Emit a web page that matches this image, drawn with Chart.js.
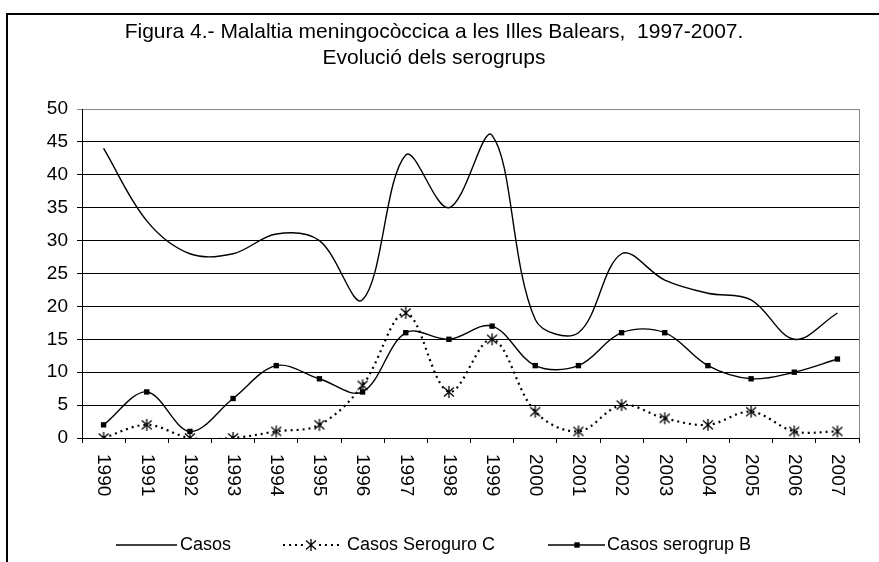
<!DOCTYPE html>
<html>
<head>
<meta charset="utf-8">
<script src="https://cdn.jsdelivr.net/npm/chart.js@4/dist/chart.umd.min.js"></script>
<style>
  html, body { margin: 0; padding: 0; background: #fff; }
  canvas { display: block; }
</style>
</head>
<body>
<canvas id="c" width="879" height="562"></canvas>
<script>
// ---- data ----
const years = ['1990','1991','1992','1993','1994','1995','1996','1997','1998','1999','2000','2001','2002','2003','2004','2005','2006','2007'];
const casos = [44, 33, 28, 28, 31, 30, 21, 43, 35, 46, 18, 16, 28, 24, 22, 21, 15, 19];
const seroC = [0, 2, 0, 0, 1, 2, 8, 19, 7, 15, 4, 1, 5, 3, 2, 4, 1, 1];
const seroB = [2, 7, 1, 6, 11, 9, 7, 16, 15, 17, 11, 11, 16, 16, 11, 9, 10, 12];
const seriesNames = ['Casos', 'Casos Seroguro C', 'Casos serogrup B'];
const titleLines = ['Figura 4.- Malaltia meningocòccica a les Illes Balears,  1997-2007.', 'Evolució dels serogrups'];

const FONT = "'Liberation Sans', Arial, Helvetica, sans-serif";

// asterisk marker (6 arms)
function makeStar() {
  const c = document.createElement('canvas');
  c.width = 14; c.height = 14;
  const g = c.getContext('2d');
  g.strokeStyle = '#000';
  g.lineWidth = 1.3;
  g.beginPath();
  g.moveTo(7, 1); g.lineTo(7, 13);
  g.moveTo(2, 2.5); g.lineTo(12, 11.5);
  g.moveTo(2, 11.5); g.lineTo(12, 2.5);
  g.stroke();
  return c;
}
const star = makeStar();

const decorPlugin = {
  id: 'decor',
  beforeDraw(chart) {
    const ctx = chart.ctx;
    ctx.save();
    ctx.fillStyle = '#fff';
    ctx.fillRect(0, 0, chart.width, chart.height);
    ctx.strokeStyle = '#000';
    ctx.lineWidth = 2;
    ctx.strokeRect(7, 14, 960, 700);
    ctx.restore();
  },
  beforeDatasetsDraw(chart) {
    const ctx = chart.ctx, a = chart.chartArea;
    ctx.save();
    ctx.strokeStyle = '#888';
    ctx.lineWidth = 1;
    ctx.beginPath();
    ctx.moveTo(Math.round(a.right) + 0.5, a.top);
    ctx.lineTo(Math.round(a.right) + 0.5, a.bottom);
    ctx.stroke();
    ctx.restore();
  },
  afterDraw(chart) {
    const ctx = chart.ctx, a = chart.chartArea;
    const xs = chart.scales.x;
    ctx.save();
    ctx.fillStyle = '#000';
    // title
    ctx.font = '21px ' + FONT;
    ctx.textAlign = 'center';
    ctx.textBaseline = 'middle';
    ctx.fillText(titleLines[0], 434, 32);
    ctx.fillText(titleLines[1], 434, 58);
    // x labels rotated clockwise
    ctx.font = '19px ' + FONT;
    years.forEach((y, i) => {
      const x = xs.getPixelForValue(i);
      ctx.save();
      ctx.translate(x, a.bottom + 16);
      ctx.rotate(Math.PI / 2);
      ctx.textAlign = 'left';
      ctx.textBaseline = 'middle';
      ctx.fillText(y, 0, 0);
      ctx.restore();
    });
    // legend
    const ly = 545;
    ctx.font = '18px ' + FONT;
    ctx.textAlign = 'left';
    ctx.textBaseline = 'middle';
    ctx.strokeStyle = '#000';
    // Casos
    ctx.lineWidth = 1.4;
    ctx.beginPath(); ctx.moveTo(116, ly); ctx.lineTo(177, ly); ctx.stroke();
    ctx.fillText(seriesNames[0], 180, ly);
    // C
    ctx.lineWidth = 2.2;
    ctx.setLineDash([2, 4]);
    ctx.beginPath(); ctx.moveTo(283, ly); ctx.lineTo(341, ly); ctx.stroke();
    ctx.setLineDash([]);
    ctx.fillStyle = '#fff';
    ctx.fillRect(305, ly - 6, 12, 12);
    ctx.fillStyle = '#000';
    ctx.drawImage(star, 311 - 7, ly - 7);
    ctx.fillText(seriesNames[1], 347, ly);
    // B
    ctx.lineWidth = 1.4;
    ctx.beginPath(); ctx.moveTo(548, ly); ctx.lineTo(605, ly); ctx.stroke();
    ctx.fillRect(577 - 2.7, ly - 2.7, 5.4, 5.4);
    ctx.fillText(seriesNames[2], 607, ly);
    ctx.restore();
  }
};

new Chart(document.getElementById('c'), {
  type: 'line',
  data: {
    labels: years,
    datasets: [
      {
        label: seriesNames[0], data: casos,
        borderColor: '#000', borderWidth: 1.4,
        pointRadius: 0, tension: 0.35, fill: false
      },
      {
        label: seriesNames[1], data: seroC,
        borderColor: '#000', borderWidth: 2.2, borderDash: [2, 4],
        pointStyle: star, pointRadius: 6, tension: 0.35, fill: false
      },
      {
        label: seriesNames[2], data: seroB,
        borderColor: '#000', borderWidth: 1.4,
        pointStyle: 'rect', pointRadius: 3.8,
        pointBackgroundColor: '#000', pointBorderColor: '#000', pointBorderWidth: 0,
        tension: 0.35, fill: false
      }
    ]
  },
  options: {
    responsive: false,
    animation: false,
    devicePixelRatio: 1,
    layout: { padding: { top: 109, right: 20, bottom: 0, left: 0 } },
    elements: { line: { capBezierPoints: false } },
    plugins: { legend: { display: false }, title: { display: false }, tooltip: { enabled: false } },
    scales: {
      x: {
        type: 'category',
        offset: true,
        grid: { offset: true, drawOnChartArea: false, drawTicks: true, tickLength: 5, color: '#000' },
        border: { display: true, color: '#000', width: 1 },
        ticks: { display: false },
        afterFit(s) { s.height = 124; }
      },
      y: {
        min: 0, max: 50,
        ticks: { stepSize: 5, color: '#000', padding: 9, font: { family: FONT, size: 19 } },
        grid: { color: (c) => (c.tick && c.tick.value === 50 ? '#888' : '#000'), tickLength: 5, lineWidth: 1 },
        border: { display: true, color: '#000', width: 1 },
        afterFit(s) { s.width = 82; }
      }
    }
  },
  plugins: [decorPlugin]
});
</script>
</body>
</html>
